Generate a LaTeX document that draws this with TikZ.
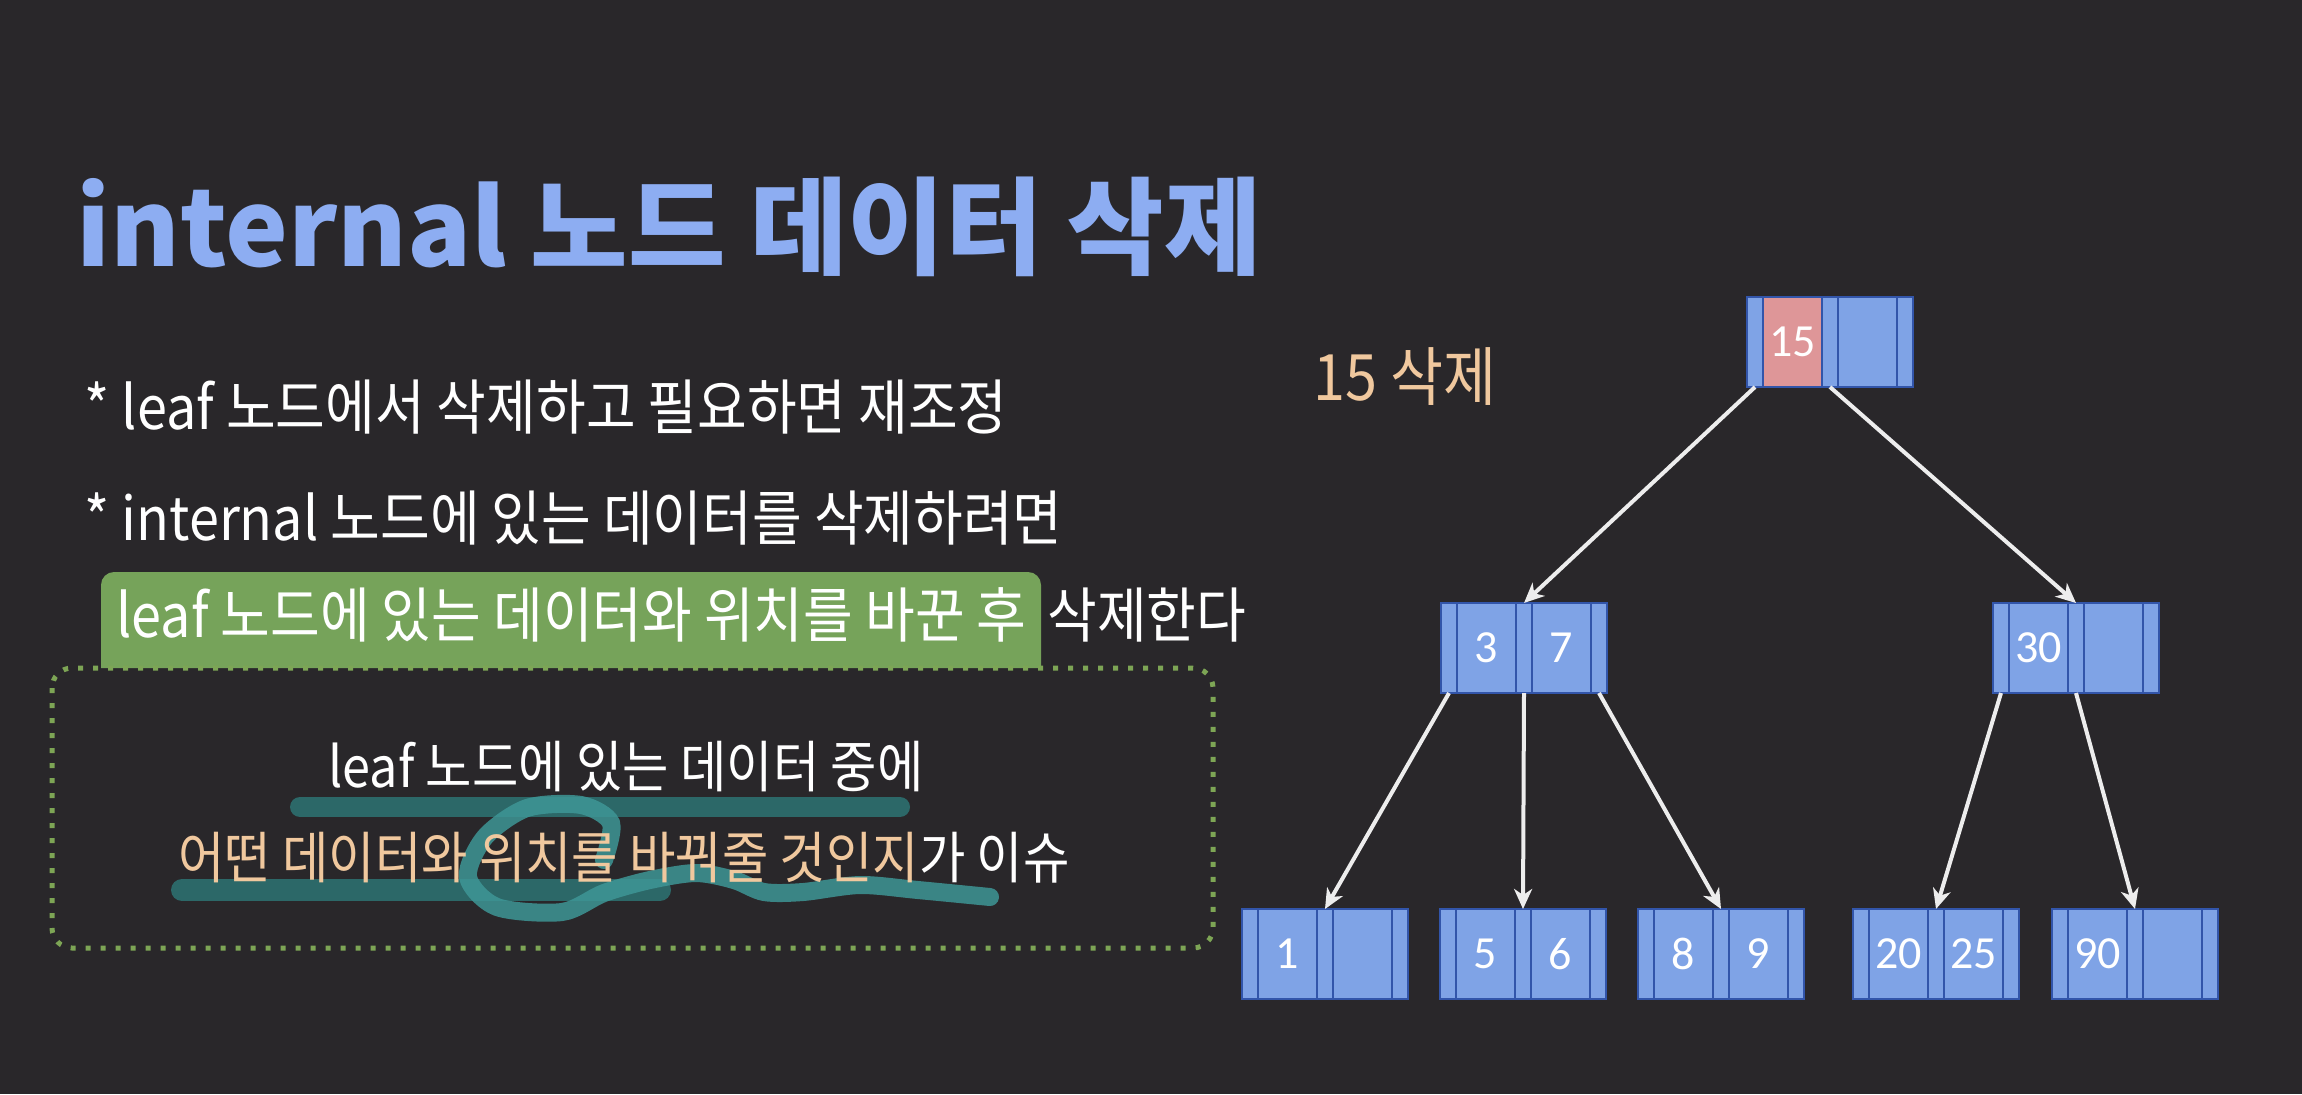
\documentclass[tikz,border=0pt]{standalone}
\usepackage{fontspec}
\usetikzlibrary{positioning,arrows.meta}
\newfontfamily\krfont{Noto Sans CJK KR}
\newfontfamily\handfont[FakeStretch=0.9]{Noto Sans CJK KR}
\newfontfamily\numfont{Carlito}
\definecolor{bgdark}{RGB}{41,39,42}
\definecolor{titleblue}{RGB}{141,173,242}
\definecolor{peach}{RGB}{240,200,158}
\definecolor{hlgreen}{RGB}{118,163,90}
\definecolor{dotgreen}{RGB}{125,165,85}
\definecolor{penteal}{RGB}{44,104,104}
\definecolor{loopteal}{RGB}{62,150,150}
\definecolor{bnfill}{RGB}{127,163,230}
\definecolor{bnborder}{RGB}{50,85,170}
\definecolor{bnpink}{RGB}{222,150,152}
\newcommand{\btnode}[5][keycell]{%
  \node[ptrcell, anchor=north west] (#2p0) at (#3) {};
  \node[#1, right=0pt of #2p0] (#2k1) {#4};
  \node[ptrcell, right=0pt of #2k1] (#2p1) {};
  \node[keycell, right=0pt of #2p1] (#2k2) {#5};
  \node[ptrcell, right=0pt of #2k2] (#2p2) {};
}
\begin{document}
\begin{tikzpicture}[x=0.5pt, y=-0.5pt,
  cell/.style={draw=bnborder, fill=bnfill, line width=1pt, minimum height=45pt, inner sep=0pt, outer sep=0pt},
  ptrcell/.style={cell, minimum width=8pt},
  keycell/.style={cell, minimum width=29.5pt, text=white, font=\numfont\fontsize{23}{25}\selectfont},
  delcell/.style={keycell, fill=bnpink},
  ptr/.style={-{Stealth[length=10pt, width=9pt, inset=3pt]}, draw=white!93!black, line width=2pt},
  bodytext/.style={anchor=west, inner sep=0pt, text=white, font=\handfont\fontsize{30}{36}\selectfont},
  boxtext/.style={bodytext, font=\handfont\fontsize{28}{34}\selectfont},
  pen/.style={line width=10pt, line cap=round, penteal}]
\fill[bgdark] (0,0) rectangle (2302,1094);

\node[anchor=base west, inner sep=0pt, text=titleblue, font=\krfont\bfseries\fontsize{53}{60}\selectfont] (title) at (76,266) {internal 노드 데이터 삭제};
\node[bodytext] (bulletone) at (84,407) {* leaf 노드에서 삭제하고 필요하면 재조정};
\node[bodytext] (bullettwo) at (84,518) {* internal 노드에 있는 데이터를 삭제하려면};

\fill[hlgreen] (101,668) [rounded corners=6.5pt] -- (101,572) -- (1041,572) [sharp corners] -- (1041,668) -- cycle;
\node[bodytext] (swap) at (116,615) {leaf 노드에 있는 데이터와 위치를 바꾼 후};
\node[bodytext] (remove) at (1047,615) {삭제한다};

\draw[dotgreen, line width=2.5pt, dash pattern=on 2.5pt off 5pt, rounded corners=10pt] (52,668) rectangle (1213,948);

\draw[pen] (300,807) -- (900,807);
\draw[pen, line width=11pt] (182,890) -- (660,890);
\draw[pen, loopteal, opacity=0.85, line width=9pt] plot[smooth] coordinates {(604,860) (611,823) (581,805) (527,808) (485,837) (468,877) (497,907) (562,912) (604,893) (650,880) (696,873) (734,880) (764,892) (803,892) (860,885) (918,890) (990,897)};

\node[boxtext, anchor=center] (which) at (626,767) {leaf 노드에 있는 데이터 중에};
\node[boxtext] (issue) at (178,858) {{\color{peach}어떤 데이터와 위치를 바꿔줄 것인지}가 이슈};

\node[bodytext, text=peach, font=\handfont\fontsize{32}{38}\selectfont] (deltag) at (1313,377) {15 삭제};

\btnode[delcell]{root}{1747,297}{15}{}
\btnode{a}{1441,603}{3}{7}
\btnode{b}{1993,603}{30}{}
\btnode{ca}{1242,909}{1}{}
\btnode{cb}{1440,909}{5}{6}
\btnode{cc}{1638,909}{8}{9}
\btnode{cd}{1853,909}{20}{25}
\btnode{ce}{2052,909}{90}{}

\draw[ptr] (rootp0.south) -- (ap1.north);
\draw[ptr] (rootp1.south) -- (bp1.north);
\draw[ptr] (ap0.south) -- (cap1.north);
\draw[ptr] (ap1.south) -- (cbp1.north);
\draw[ptr] (ap2.south) -- (ccp1.north);
\draw[ptr] (bp0.south) -- (cdp1.north);
\draw[ptr] (bp1.south) -- (cep1.north);
\end{tikzpicture}
\end{document}
